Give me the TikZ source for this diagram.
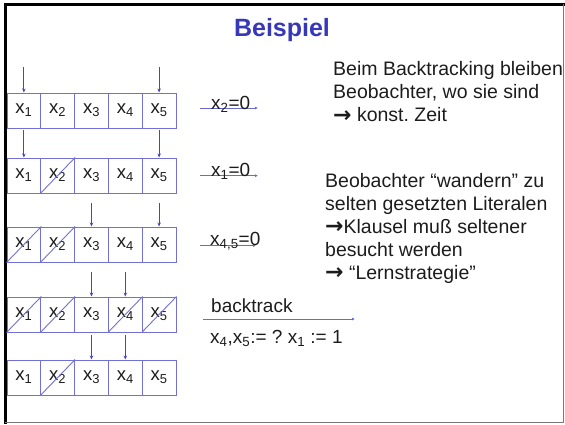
\documentclass[tikz,border=0pt]{standalone}
\usepackage{fontspec}
\setmainfont{Liberation Sans}
\newfontfamily\arwfont{DejaVu Sans}
\usetikzlibrary{arrows.meta}
\definecolor{cellblue}{RGB}{112,112,214}
\definecolor{arrblue}{RGB}{70,70,195}
\definecolor{titleblue}{RGB}{55,55,185}
\definecolor{txtgray}{RGB}{28,28,28}
\definecolor{framegray}{RGB}{120,120,120}
\newcommand\sbx[1]{\textsubscript{#1}}
\newcommand\rarw{\raisebox{-0.6pt}{\arwfont\bfseries\fontsize{22}{23}\selectfont →}}
\frenchspacing
\begin{document}
\begin{tikzpicture}[x=1pt,y=-1pt,
  cell/.style={draw=cellblue,line width=1pt,minimum width=33.8pt,minimum height=35pt,inner sep=0pt,
    font=\fontsize{18.5}{20}\selectfont,text=txtgray},
  slash/.style={draw=cellblue,line width=0.9pt},
  ptr/.style={draw=arrblue,line width=0.9pt,-{Stealth[length=4pt,width=3.5pt]}},
  lline/.style={draw=arrblue!80!white,line width=1pt,-{Latex[length=3pt,width=3pt]}},
  lbl/.style={font=\fontsize{19}{22}\selectfont,text=txtgray,inner sep=0pt},
  rtext/.style={font=\fontsize{19.5}{23.3}\selectfont,text=txtgray,inner sep=0pt,align=left}]
\useasboundingbox (0,0) rectangle (565,424);
% frame
\draw[black,line width=2.7pt] (4,4.6) -- (565,4.6);
\draw[black,line width=2.4pt] (5.5,3.3) -- (5.5,424);
\draw[framegray,line width=1pt] (563.3,4) -- (563.3,422.3) -- (5,422.3);
% title
\node[font=\fontsize{25}{30}\selectfont\bfseries,text=titleblue,anchor=base,inner sep=0pt] (title) at (282,36) {Beispiel};
% cells
\foreach \r/\y in {1/93,2/158,3/227,4/297,5/360}{
  \foreach \c in {1,...,5}{
    \node[cell] (r\r c\c) at ({7+33.8*(\c-0.5)},{\y+17.5}) {x\sbx{\c}};
  }
}
% slashes
\foreach \rc in {r2c2,r3c1,r3c2,r4c1,r4c2,r4c4,r4c5,r5c2}{
  \draw[slash] (\rc.south west) -- (\rc.north east);
}
% pointers
\foreach \r/\c/\ys in {1/1/67,1/5/67,2/1/130,2/5/130,3/3/203,3/5/203,4/3/272,4/4/272,5/3/335,5/4/335}{
  \coordinate (p\r\c) at (r\r c\c.north |- 0,\ys);
  \draw[ptr] (p\r\c) -- (r\r c\c.north);
}
% labels with lines
\coordinate (l1s) at (200,108); \coordinate (l1e) at (258,108);
\draw[lline] (l1s) -- (l1e);
\node[lbl,anchor=base west] (l1) at (211,109) {x\sbx{2}=0};
\coordinate (l2s) at (200,175.7); \coordinate (l2e) at (258,175.7);
\draw[lline] (l2s) -- (l2e);
\node[lbl,anchor=base west] (l2) at (211,176.5) {x\sbx{1}=0};
\coordinate (l3s) at (200,245.5); \coordinate (l3e) at (256,245.5);
\draw[lline] (l3s) -- (l3e);
\node[lbl,anchor=base west] (l3) at (210,245) {x\sbx{4,5}=0};
\coordinate (l4s) at (203,319); \coordinate (l4e) at (355,319);
\draw[lline] (l4s) -- (l4e);
\node[lbl,anchor=base west] (bt) at (211,312) {backtrack};
\node[lbl,anchor=base west] (bt2) at (210,343) {x\sbx{4},x\sbx{5}:= ? x\sbx{1} := 1};
% right texts
\node[rtext,anchor=north west] (t1) at (333,61) {Beim Backtracking bleiben\\Beobachter, wo sie sind\\\rarw{} konst. Zeit};
\node[rtext,anchor=north west,font=\fontsize{19.5}{23}\selectfont] (t2) at (325,173) {Beobachter “wandern” zu\\selten gesetzten Literalen\\\rarw{}Klausel muß seltener\\besucht werden\\\rarw{} “Lernstrategie”};
\end{tikzpicture}
\end{document}
